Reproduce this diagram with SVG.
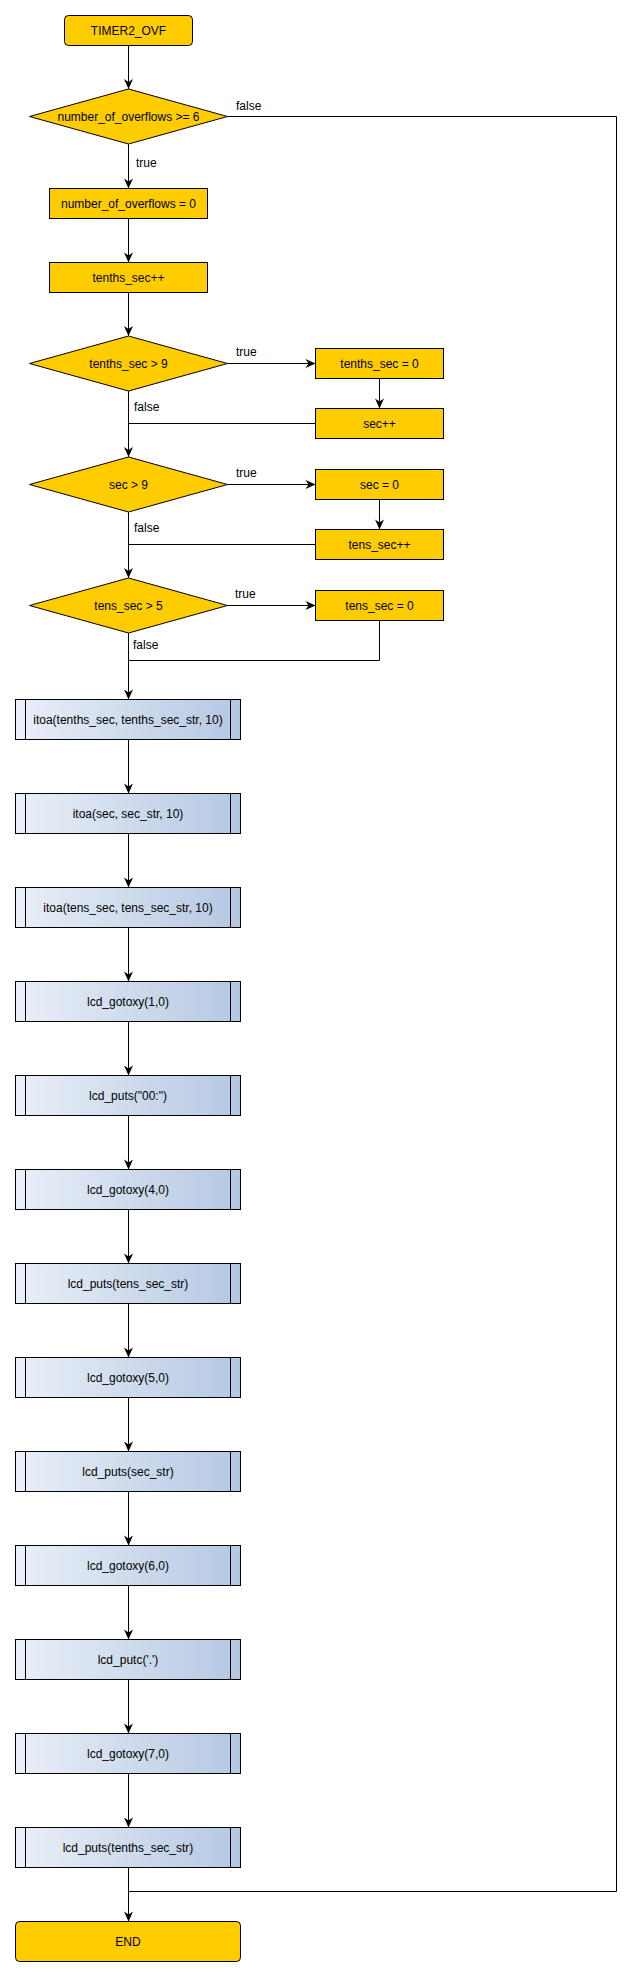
<svg xmlns="http://www.w3.org/2000/svg" width="632" height="1976" viewBox="0 0 632 1976">
<style>
text{font-family:"Liberation Sans",Arial,Helvetica,sans-serif;font-size:12px;fill:#000}
.c{text-anchor:middle}
.l{text-anchor:start}
.y{fill:#FFCC00;stroke:#000;stroke-width:1}
.p{fill:url(#g);stroke:#000;stroke-width:1}
.e{fill:none;stroke:#000;stroke-width:1}
.a{marker-end:url(#arr)}
</style>
<defs>
<linearGradient id="g" x1="0" y1="0" x2="1" y2="0">
<stop offset="0" stop-color="#EBF0F8"/>
<stop offset="1" stop-color="#B4C7E2"/>
</linearGradient>
<marker id="arr" markerWidth="12" markerHeight="10" viewBox="-11 -5 12 10" refX="0" refY="0" orient="auto" markerUnits="userSpaceOnUse">
<path d="M0,0 L-10,-4.5 L-7,0 L-10,4.5 Z" fill="#000"/>
</marker>
</defs>
<rect width="632" height="1976" fill="#fff"/>

<g id="connectors">
<path class="e a" d="M128.5,45.5 V89"/>
<path class="e a" d="M128.5,144 V188.5"/>
<path class="e a" d="M128.5,218.5 V262.5"/>
<path class="e a" d="M128.5,292.5 V336"/>
<path class="e a" d="M227.5,363.5 H315.5"/>
<path class="e a" d="M379.5,378.5 V408.5"/>
<path class="e a" d="M128.5,391 V457"/>
<path class="e" d="M315.5,423.5 H128.5"/>
<path class="e a" d="M227.5,484.5 H315.5"/>
<path class="e a" d="M379.5,499.5 V529.5"/>
<path class="e a" d="M128.5,512 V578"/>
<path class="e" d="M315.5,544.5 H128.5"/>
<path class="e a" d="M227.5,605.5 H315.5"/>
<path class="e a" d="M128.5,633 V699.5"/>
<path class="e" d="M379.5,620.5 V660.5 H128.5"/>
<path class="e a" d="M128.5,739.5 V793.5"/>
<path class="e a" d="M128.5,833.5 V887.5"/>
<path class="e a" d="M128.5,927.5 V981.5"/>
<path class="e a" d="M128.5,1021.5 V1075.5"/>
<path class="e a" d="M128.5,1115.5 V1169.5"/>
<path class="e a" d="M128.5,1209.5 V1263.5"/>
<path class="e a" d="M128.5,1303.5 V1357.5"/>
<path class="e a" d="M128.5,1397.5 V1451.5"/>
<path class="e a" d="M128.5,1491.5 V1545.5"/>
<path class="e a" d="M128.5,1585.5 V1639.5"/>
<path class="e a" d="M128.5,1679.5 V1733.5"/>
<path class="e a" d="M128.5,1773.5 V1827.5"/>
<path class="e a" d="M128.5,1867.5 V1921.5"/>
<path class="e" d="M227.5,116.5 H616.5 V1891.5 H128.5"/>
<text class="l" x="236" y="110">false</text>
<text class="l" x="136" y="167">true</text>
<text class="l" x="236" y="356">true</text>
<text class="l" x="134" y="411">false</text>
<text class="l" x="236" y="477">true</text>
<text class="l" x="134" y="532">false</text>
<text class="l" x="235" y="598">true</text>
<text class="l" x="133" y="649">false</text>
</g>

<g id="start"><rect class="y" x="64.5" y="15.5" width="128" height="30" rx="4"/><text class="c" x="128.5" y="34.5">TIMER2_OVF</text></g>
<g id="d1"><path class="y" d="M128.5,89 L227.5,116.5 L128.5,144 L29.5,116.5 Z"/><text class="c" x="128.5" y="120.5">number_of_overflows &gt;= 6</text></g>
<g id="nof0"><rect class="y" x="49.5" y="188.5" width="158" height="30"/><text class="c" x="128.5" y="207.5">number_of_overflows = 0</text></g>
<g id="tenthsinc"><rect class="y" x="49.5" y="262.5" width="158" height="30"/><text class="c" x="128.5" y="281.5">tenths_sec++</text></g>
<g id="d2"><path class="y" d="M128.5,336 L227.5,363.5 L128.5,391 L29.5,363.5 Z"/><text class="c" x="128.5" y="367.5">tenths_sec &gt; 9</text></g>
<g id="tenths0"><rect class="y" x="315.5" y="348.5" width="128" height="30"/><text class="c" x="379.5" y="367.5">tenths_sec = 0</text></g>
<g id="secinc"><rect class="y" x="315.5" y="408.5" width="128" height="30"/><text class="c" x="379.5" y="427.5">sec++</text></g>
<g id="d3"><path class="y" d="M128.5,457 L227.5,484.5 L128.5,512 L29.5,484.5 Z"/><text class="c" x="128.5" y="488.5">sec &gt; 9</text></g>
<g id="sec0"><rect class="y" x="315.5" y="469.5" width="128" height="30"/><text class="c" x="379.5" y="488.5">sec = 0</text></g>
<g id="tensinc"><rect class="y" x="315.5" y="529.5" width="128" height="30"/><text class="c" x="379.5" y="548.5">tens_sec++</text></g>
<g id="d4"><path class="y" d="M128.5,578 L227.5,605.5 L128.5,633 L29.5,605.5 Z"/><text class="c" x="128.5" y="609.5">tens_sec &gt; 5</text></g>
<g id="tens0"><rect class="y" x="315.5" y="590.5" width="128" height="30"/><text class="c" x="379.5" y="609.5">tens_sec = 0</text></g>

<g id="p0"><rect class="p" x="15.5" y="699.5" width="225" height="40"/><path class="e" d="M25.5,699.5 V739.5 M230.5,699.5 V739.5"/><text class="c" x="128" y="723.5">itoa(tenths_sec, tenths_sec_str, 10)</text></g>
<g id="p1"><rect class="p" x="15.5" y="793.5" width="225" height="40"/><path class="e" d="M25.5,793.5 V833.5 M230.5,793.5 V833.5"/><text class="c" x="128" y="817.5">itoa(sec, sec_str, 10)</text></g>
<g id="p2"><rect class="p" x="15.5" y="887.5" width="225" height="40"/><path class="e" d="M25.5,887.5 V927.5 M230.5,887.5 V927.5"/><text class="c" x="128" y="911.5">itoa(tens_sec, tens_sec_str, 10)</text></g>
<g id="p3"><rect class="p" x="15.5" y="981.5" width="225" height="40"/><path class="e" d="M25.5,981.5 V1021.5 M230.5,981.5 V1021.5"/><text class="c" x="128" y="1005.5">lcd_gotoxy(1,0)</text></g>
<g id="p4"><rect class="p" x="15.5" y="1075.5" width="225" height="40"/><path class="e" d="M25.5,1075.5 V1115.5 M230.5,1075.5 V1115.5"/><text class="c" x="128" y="1099.5">lcd_puts("00:")</text></g>
<g id="p5"><rect class="p" x="15.5" y="1169.5" width="225" height="40"/><path class="e" d="M25.5,1169.5 V1209.5 M230.5,1169.5 V1209.5"/><text class="c" x="128" y="1193.5">lcd_gotoxy(4,0)</text></g>
<g id="p6"><rect class="p" x="15.5" y="1263.5" width="225" height="40"/><path class="e" d="M25.5,1263.5 V1303.5 M230.5,1263.5 V1303.5"/><text class="c" x="128" y="1287.5">lcd_puts(tens_sec_str)</text></g>
<g id="p7"><rect class="p" x="15.5" y="1357.5" width="225" height="40"/><path class="e" d="M25.5,1357.5 V1397.5 M230.5,1357.5 V1397.5"/><text class="c" x="128" y="1381.5">lcd_gotoxy(5,0)</text></g>
<g id="p8"><rect class="p" x="15.5" y="1451.5" width="225" height="40"/><path class="e" d="M25.5,1451.5 V1491.5 M230.5,1451.5 V1491.5"/><text class="c" x="128" y="1475.5">lcd_puts(sec_str)</text></g>
<g id="p9"><rect class="p" x="15.5" y="1545.5" width="225" height="40"/><path class="e" d="M25.5,1545.5 V1585.5 M230.5,1545.5 V1585.5"/><text class="c" x="128" y="1569.5">lcd_gotoxy(6,0)</text></g>
<g id="p10"><rect class="p" x="15.5" y="1639.5" width="225" height="40"/><path class="e" d="M25.5,1639.5 V1679.5 M230.5,1639.5 V1679.5"/><text class="c" x="128" y="1663.5">lcd_putc('.')</text></g>
<g id="p11"><rect class="p" x="15.5" y="1733.5" width="225" height="40"/><path class="e" d="M25.5,1733.5 V1773.5 M230.5,1733.5 V1773.5"/><text class="c" x="128" y="1757.5">lcd_gotoxy(7,0)</text></g>
<g id="p12"><rect class="p" x="15.5" y="1827.5" width="225" height="40"/><path class="e" d="M25.5,1827.5 V1867.5 M230.5,1827.5 V1867.5"/><text class="c" x="128" y="1851.5">lcd_puts(tenths_sec_str)</text></g>

<g id="end"><rect class="y" x="15.5" y="1921.5" width="225" height="40" rx="4"/><text class="c" x="128" y="1945.5">END</text></g>
</svg>
